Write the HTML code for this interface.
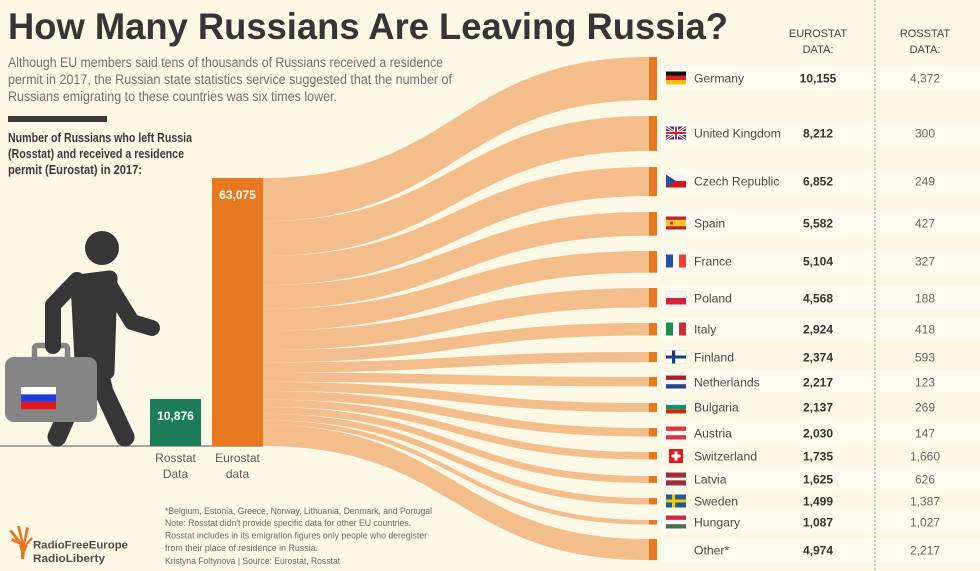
<!DOCTYPE html>
<html><head><meta charset="utf-8">
<style>
html,body{margin:0;padding:0;background:#fbf8e6;}
svg{display:block;}
text{font-family:"Liberation Sans",sans-serif;}
</style></head>
<body>
<svg width="980" height="571" viewBox="0 0 980 571" xmlns="http://www.w3.org/2000/svg">
<rect width="980" height="571" fill="#fbf8e6"/>

<!-- table row bands -->
<g fill="#fdfbef">
<rect x="660" y="66" width="320" height="24"/>
<rect x="660" y="121" width="320" height="24"/>
<rect x="660" y="169" width="320" height="24"/>
<rect x="660" y="211" width="320" height="24"/>
<rect x="660" y="249" width="320" height="24"/>
<rect x="660" y="286" width="320" height="24"/>
<rect x="660" y="318" width="320" height="22"/>
<rect x="660" y="370" width="320" height="22"/>
<rect x="660" y="421" width="320" height="22"/>
<rect x="660" y="467" width="320" height="22"/>
<rect x="660" y="511" width="320" height="22"/>
<rect x="660" y="538" width="320" height="24"/>
</g>

<!-- dotted divider -->
<line x1="875" y1="0" x2="875" y2="571" stroke="#b0aca0" stroke-width="1.2" stroke-dasharray="2,2"/>

<!-- Title -->
<text x="8" y="39" font-size="37" font-weight="bold" fill="#353535" textLength="720" lengthAdjust="spacingAndGlyphs">How Many Russians Are Leaving Russia?</text>

<!-- Subtitle -->
<g font-size="13.5" fill="#707070">
<text x="8" y="67" textLength="435" lengthAdjust="spacingAndGlyphs">Although EU members said tens of thousands of Russians received a residence</text>
<text x="8" y="84" textLength="444" lengthAdjust="spacingAndGlyphs">permit in 2017, the Russian state statistics service suggested that the number of</text>
<text x="8" y="101" textLength="329" lengthAdjust="spacingAndGlyphs">Russians emigrating to these countries was six times lower.</text>
</g>
<rect x="8" y="116" width="99" height="6" fill="#3a3a3a"/>

<g font-size="12.5" font-weight="bold" fill="#3a3a3a">
<text x="8" y="142" textLength="184" lengthAdjust="spacingAndGlyphs">Number of Russians who left Russia</text>
<text x="8" y="158" textLength="176" lengthAdjust="spacingAndGlyphs">(Rosstat) and received a residence</text>
<text x="8" y="174" textLength="134" lengthAdjust="spacingAndGlyphs">permit (Eurostat) in 2017:</text>
</g>

<!-- Flows -->
<g fill="#f3be8b">
<path d="M263 178 C456 178,456 57,649 57 L649 100.15 C456 100.15,456 221.15,263 221.15Z"/>
<path d="M263 221.15 C456 221.15,456 116,649 116 L649 150.9 C456 150.9,456 256.04,263 256.04Z"/>
<path d="M263 256.04 C456 256.04,456 167,649 167 L649 196.1 C456 196.1,456 285.15,263 285.15Z"/>
<path d="M263 285.15 C456 285.15,456 212,649 212 L649 235.7 C456 235.7,456 308.87,263 308.87Z"/>
<path d="M263 308.87 C456 308.87,456 251,649 251 L649 272.7 C456 272.7,456 330.56,263 330.56Z"/>
<path d="M263 330.56 C456 330.56,456 288,649 288 L649 307.4 C456 307.4,456 349.97,263 349.97Z"/>
<path d="M263 349.97 C456 349.97,456 323,649 323 L649 335.4 C456 335.4,456 362.39,263 362.39Z"/>
<path d="M263 362.39 C456 362.39,456 352,649 352 L649 362.1 C456 362.1,456 372.48,263 372.48Z"/>
<path d="M263 372.48 C456 372.48,456 377,649 377 L649 386.4 C456 386.4,456 381.9,263 381.9Z"/>
<path d="M263 381.9 C456 381.9,456 403,649 403 L649 412.1 C456 412.1,456 390.98,263 390.98Z"/>
<path d="M263 390.98 C456 390.98,456 428,649 428 L649 436.6 C456 436.6,456 399.61,263 399.61Z"/>
<path d="M263 399.61 C456 399.61,456 452,649 452 L649 459.4 C456 459.4,456 406.98,263 406.98Z"/>
<path d="M263 406.98 C456 406.98,456 476,649 476 L649 482.9 C456 482.9,456 413.88,263 413.88Z"/>
<path d="M263 413.88 C456 413.88,456 498,649 498 L649 504.4 C456 504.4,456 420.25,263 420.25Z"/>
<path d="M263 420.25 C456 420.25,456 520,649 520 L649 524.6 C456 524.6,456 424.87,263 424.87Z"/>
<path d="M263 424.87 C456 424.87,456 539,649 539 L649 560.1 C456 560.1,456 446,263 446Z"/>
</g>

<!-- right orange bars -->
<g fill="#e8781f">
<rect x="649" y="57" width="8" height="43.15"/>
<rect x="649" y="116" width="8" height="34.9"/>
<rect x="649" y="167" width="8" height="29.1"/>
<rect x="649" y="212" width="8" height="23.7"/>
<rect x="649" y="251" width="8" height="21.7"/>
<rect x="649" y="288" width="8" height="19.4"/>
<rect x="649" y="323" width="8" height="12.4"/>
<rect x="649" y="352" width="8" height="10.1"/>
<rect x="649" y="377" width="8" height="9.4"/>
<rect x="649" y="403" width="8" height="9.1"/>
<rect x="649" y="428" width="8" height="8.6"/>
<rect x="649" y="452" width="8" height="7.4"/>
<rect x="649" y="476" width="8" height="6.9"/>
<rect x="649" y="498" width="8" height="6.4"/>
<rect x="649" y="520" width="8" height="4.6"/>
<rect x="649" y="539" width="8" height="21.1"/>
</g>

<!-- Ground line -->
<line x1="0" y1="446" x2="263" y2="446" stroke="#8a8a84" stroke-width="1.6"/>

<!-- Bars -->
<rect x="150" y="399" width="51" height="47" fill="#1d7d5a"/>
<rect x="212" y="178" width="51" height="268" fill="#e8781f"/>
<text x="175.5" y="420" font-size="12" font-weight="bold" fill="#fff" text-anchor="middle">10,876</text>
<text x="237.5" y="199" font-size="12" font-weight="bold" fill="#fff" text-anchor="middle">63,075</text>
<g font-size="12" fill="#5a5a5a" text-anchor="middle">
<text x="175.5" y="462">Rosstat</text>
<text x="175.5" y="478">Data</text>
<text x="237.5" y="462">Eurostat</text>
<text x="237.5" y="478">data</text>
</g>

<!-- Person -->
<g stroke="#363636" stroke-linecap="round" stroke-linejoin="round" fill="none">
<circle cx="102" cy="248" r="17" fill="#363636" stroke="none"/>
<polyline points="80,385 57,437" stroke-width="19"/>
<polyline points="98,368 104,392 125,437" stroke-width="19"/>
<path d="M78 282 L110 278 L107 372 L83 380 Z" fill="#363636" stroke-width="15"/>
<polyline points="108,283 132,322 152,328" stroke-width="16"/>
</g>
<!-- Suitcase -->
<rect x="34.5" y="345.5" width="33" height="14" rx="3" fill="none" stroke="#858585" stroke-width="5.5"/>
<rect x="5" y="357" width="92" height="65" rx="9" fill="#858585"/>
<rect x="21" y="387" width="35" height="7.4" fill="#ffffff"/>
<rect x="21" y="394.4" width="35" height="7.4" fill="#1c3ee0"/>
<rect x="21" y="401.8" width="35" height="7.4" fill="#e3191c"/>
<polyline points="77,280 53,305 53,346" stroke="#363636" stroke-width="16" stroke-linecap="round" stroke-linejoin="round" fill="none"/>

<!-- Footnote -->
<g font-size="9" fill="#6a6a6a">
<text x="165" y="514" textLength="267" lengthAdjust="spacingAndGlyphs">*Belgium, Estonia, Greece, Norway, Lithuania, Denmark, and Portugal</text>
<text x="165" y="526" textLength="246" lengthAdjust="spacingAndGlyphs">Note: Rosstat didn't provide specific data for other EU countries.</text>
<text x="165" y="538.5" textLength="262" lengthAdjust="spacingAndGlyphs">Rosstat includes in its emigration figures only people who deregister</text>
<text x="165" y="551" textLength="153" lengthAdjust="spacingAndGlyphs">from their place of residence in Russia.</text>
<text x="165" y="564" textLength="175" lengthAdjust="spacingAndGlyphs">Kristyna Foltynova | Source: Eurostat, Rosstat</text>
</g>

<!-- Logo -->
<g fill="#e8781f">
<polygon points="21,546 9,531 12,530 23,544"/>
<polygon points="22,545 17,526 20,526 24,544"/>
<polygon points="23,545 26,527 29,528 25,545"/>
<polygon points="23,546 11,541 12,538 24,544"/>
<polygon points="24,546 31,537 33,539 25,547"/>
<polygon points="19,545 28,545 25,552 24,559 21,559 21,552"/>
</g>
<g font-size="11" font-weight="bold" fill="#4d4d4d">
<text x="33" y="548.5" textLength="95" lengthAdjust="spacingAndGlyphs">RadioFreeEurope</text>
<text x="33" y="562" textLength="72" lengthAdjust="spacingAndGlyphs">RadioLiberty</text>
</g>

<!-- Table headers -->
<g font-size="11" fill="#444" text-anchor="middle">
<text x="818" y="37">EUROSTAT</text>
<text x="818" y="53">DATA:</text>
<text x="925" y="37">ROSSTAT</text>
<text x="925" y="53">DATA:</text>
</g>

<!-- Flags -->
<rect x="666" y="71.5" width="20" height="4.4" fill="#111"/>
<rect x="666" y="75.9" width="20" height="4.3" fill="#dd1f1f"/>
<rect x="666" y="80.2" width="20" height="4.3" fill="#f5c400"/>
<g>
<rect x="666" y="126.5" width="20" height="13" fill="#26418f"/>
<line x1="666" y1="126.5" x2="686" y2="139.5" stroke="#fff" stroke-width="3"/>
<line x1="686" y1="126.5" x2="666" y2="139.5" stroke="#fff" stroke-width="3"/>
<line x1="666" y1="126.5" x2="686" y2="139.5" stroke="#d4232c" stroke-width="1"/>
<line x1="686" y1="126.5" x2="666" y2="139.5" stroke="#d4232c" stroke-width="1"/>
<rect x="666" y="131" width="20" height="4" fill="#fff"/>
<rect x="674" y="126.5" width="4" height="13" fill="#fff"/>
<rect x="666" y="132" width="20" height="2" fill="#d4232c"/>
<rect x="675" y="126.5" width="2" height="13" fill="#d4232c"/>
</g>
<rect x="666" y="174.5" width="20" height="6.5" fill="#f4f4f4"/>
<rect x="666" y="181" width="20" height="6.5" fill="#d7141a"/>
<polygon points="666,174.5 666,187.5 676,181" fill="#2a4f9a"/>
<rect x="666" y="216.5" width="20" height="13" fill="#c8202a"/>
<rect x="666" y="219.8" width="20" height="6.5" fill="#f7c331"/>
<rect x="670" y="221.5" width="3" height="3" fill="#b5452a"/>
<rect x="666" y="254.5" width="7" height="13" fill="#2450a4"/>
<rect x="673" y="254.5" width="6" height="13" fill="#fafafa"/>
<rect x="679" y="254.5" width="7" height="13" fill="#ef4135"/>
<rect x="666" y="291.5" width="20" height="6.5" fill="#f4f4f4" stroke="#ddd" stroke-width="0.5"/>
<rect x="666" y="298" width="20" height="6.5" fill="#d4213d"/>
<rect x="666" y="322.5" width="7" height="13" fill="#169247"/>
<rect x="673" y="322.5" width="6" height="13" fill="#fafafa"/>
<rect x="679" y="322.5" width="7" height="13" fill="#ce2b37"/>
<rect x="666" y="350.5" width="20" height="13" fill="#fafafa" stroke="#ddd" stroke-width="0.5"/>
<rect x="666" y="355.5" width="20" height="3" fill="#1a3c7c"/>
<rect x="672" y="350.5" width="3.2" height="13" fill="#1a3c7c"/>
<rect x="666" y="375.5" width="20" height="4.4" fill="#ae1c28"/>
<rect x="666" y="379.9" width="20" height="4.3" fill="#fafafa"/>
<rect x="666" y="384.2" width="20" height="4.3" fill="#21468b"/>
<rect x="666" y="400.5" width="20" height="4.4" fill="#fafafa" stroke="#ddd" stroke-width="0.5"/>
<rect x="666" y="404.9" width="20" height="4.3" fill="#00966e"/>
<rect x="666" y="409.2" width="20" height="4.3" fill="#d62612"/>
<rect x="666" y="426.5" width="20" height="4.4" fill="#e0313f"/>
<rect x="666" y="430.9" width="20" height="4.3" fill="#fafafa"/>
<rect x="666" y="435.2" width="20" height="4.3" fill="#e0313f"/>
<rect x="669" y="449" width="14" height="14" fill="#e0191f"/>
<rect x="674.5" y="451.5" width="3" height="9" fill="#fff"/>
<rect x="671.5" y="454.5" width="9" height="3" fill="#fff"/>
<rect x="666" y="472.5" width="20" height="13" fill="#9e3039"/>
<rect x="666" y="477.7" width="20" height="2.6" fill="#fafafa"/>
<rect x="666" y="494.5" width="20" height="13" fill="#1d5a9c"/>
<rect x="666" y="499.5" width="20" height="3" fill="#f6c900"/>
<rect x="672" y="494.5" width="3.2" height="13" fill="#f6c900"/>
<rect x="666" y="515.5" width="20" height="4.4" fill="#ce2939"/>
<rect x="666" y="519.9" width="20" height="4.3" fill="#fafafa"/>
<rect x="666" y="524.2" width="20" height="4.3" fill="#477050"/>

<!-- Country names -->
<g font-size="12.2" fill="#4a4a4a">
<text x="694" y="82.5">Germany</text>
<text x="694" y="137.5">United Kingdom</text>
<text x="694" y="185.5">Czech Republic</text>
<text x="694" y="227.5">Spain</text>
<text x="694" y="265.5">France</text>
<text x="694" y="302.5">Poland</text>
<text x="694" y="333.5">Italy</text>
<text x="694" y="361.5">Finland</text>
<text x="694" y="386.5">Netherlands</text>
<text x="694" y="411.5">Bulgaria</text>
<text x="694" y="437.5">Austria</text>
<text x="694" y="460.5">Switzerland</text>
<text x="694" y="483.5">Latvia</text>
<text x="694" y="505.5">Sweden</text>
<text x="694" y="526.5">Hungary</text>
<text x="694" y="554.5">Other*</text>
</g>

<!-- Eurostat values -->
<g font-size="12" font-weight="bold" fill="#333" text-anchor="middle">
<text x="818" y="82.5">10,155</text>
<text x="818" y="137.5">8,212</text>
<text x="818" y="185.5">6,852</text>
<text x="818" y="227.5">5,582</text>
<text x="818" y="265.5">5,104</text>
<text x="818" y="302.5">4,568</text>
<text x="818" y="333.5">2,924</text>
<text x="818" y="361.5">2,374</text>
<text x="818" y="386.5">2,217</text>
<text x="818" y="411.5">2,137</text>
<text x="818" y="437.5">2,030</text>
<text x="818" y="460.5">1,735</text>
<text x="818" y="483.5">1,625</text>
<text x="818" y="505.5">1,499</text>
<text x="818" y="526.5">1,087</text>
<text x="818" y="554.5">4,974</text>
</g>

<!-- Rosstat values -->
<g font-size="12" fill="#666" text-anchor="middle">
<text x="925" y="82.5">4,372</text>
<text x="925" y="137.5">300</text>
<text x="925" y="185.5">249</text>
<text x="925" y="227.5">427</text>
<text x="925" y="265.5">327</text>
<text x="925" y="302.5">188</text>
<text x="925" y="333.5">418</text>
<text x="925" y="361.5">593</text>
<text x="925" y="386.5">123</text>
<text x="925" y="411.5">269</text>
<text x="925" y="437.5">147</text>
<text x="925" y="460.5">1,660</text>
<text x="925" y="483.5">626</text>
<text x="925" y="505.5">1,387</text>
<text x="925" y="526.5">1,027</text>
<text x="925" y="554.5">2,217</text>
</g>
</svg>
</body></html>
